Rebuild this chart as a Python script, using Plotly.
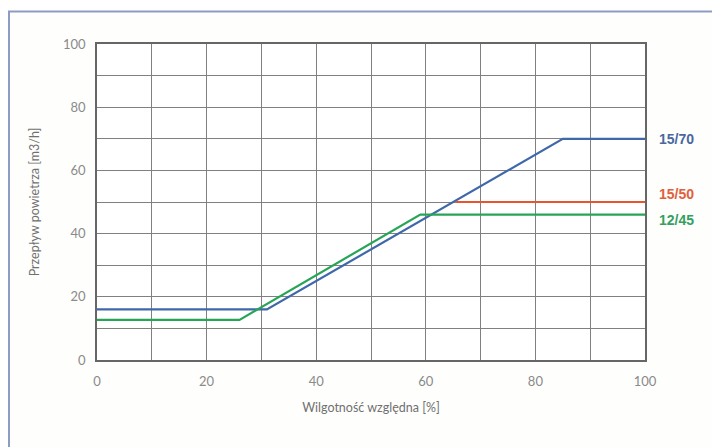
import plotly.graph_objects as go

# Data
x_1570 = [0, 31, 85, 100]
y_1570 = [16, 16, 70, 70]
x_1550 = [65.5, 100]
y_1550 = [50, 50]
x_1245 = [0, 26, 59, 100]
y_1245 = [12.7, 12.7, 46, 46]
series_names = ["15/70", "15/50", "12/45"]
series_colors = ["#3f68ab", "#e8542c", "#27a556"]
label_colors = ["#4a67a0", "#e0603c", "#34a060"]
x_ticks = [0, 20, 40, 60, 80, 100]
y_ticks = [0, 20, 40, 60, 80, 100]
x_title = "Wilgotność względna [%]"
y_title = "Przepływ powietrza [m3/h]"

# page body has an 8px margin; figure coordinates are page coords minus 8
OFF = 8
W, H = 712, 439
L, R, T, B = 97 - OFF, 645 - OFF, 43.5 - OFF, 360 - OFF

fig = go.Figure()
data = [(x_1570, y_1570), (x_1550, y_1550), (x_1245, y_1245)]
for (xs, ys), name, col in zip(data, series_names, series_colors):
    fig.add_trace(go.Scatter(x=xs, y=ys, mode="lines", name=name,
                             line=dict(color=col, width=2.2), showlegend=False))

# end labels
for (xs, ys), name, col, dy in zip(data, series_names, label_colors, [0, 8, -5]):
    fig.add_annotation(x=1, xref="paper", y=ys[-1], yref="y", text="<b>" + name + "</b>",
                       showarrow=False, xanchor="left", xshift=12, yshift=dy,
                       font=dict(family="Liberation Sans", size=14, color=col))

def px2x(px):
    return (px - OFF - L) / (R - L)

def py2y(py):
    return (B - (py - OFF)) / (B - T)

# outer panel frame
fig.add_shape(type="rect", xref="paper", yref="paper",
              x0=px2x(9), x1=px2x(716), y0=py2y(480), y1=py2y(11),
              line=dict(color="#8e9cc4", width=2), fillcolor="rgba(0,0,0,0)", layer="below")

axis_common = dict(showgrid=True, gridcolor="#808080", gridwidth=1,
                   showline=True, linecolor="#666666", linewidth=1.5, mirror=True,
                   zeroline=False, ticks="", tickfont=dict(family="Lato", size=13, color="#8a8a8a"))

fig.update_xaxes(range=[0, 100], tickvals=list(range(0, 101, 10)),
                 ticktext=[str(v) if v in x_ticks else "" for v in range(0, 101, 10)],
                 ticklabelstandoff=9,
                 title=dict(text=x_title, font=dict(family="Lato", size=12.5, color="#707070"), standoff=15),
                 **axis_common)
fig.update_yaxes(range=[0, 100], tickvals=list(range(0, 101, 10)),
                 ticktext=[str(v) if v in y_ticks else "" for v in range(0, 101, 10)],
                 ticklabelstandoff=7,
                 title=dict(text=y_title, font=dict(family="Lato", size=12.5, color="#707070"), standoff=21),
                 **axis_common)

fig.update_layout(width=W, height=H,
                  margin=dict(l=L, r=W - R, t=T, b=H - B),
                  paper_bgcolor="#fefefc", plot_bgcolor="#ffffff")

fig.write_html("out.html")
